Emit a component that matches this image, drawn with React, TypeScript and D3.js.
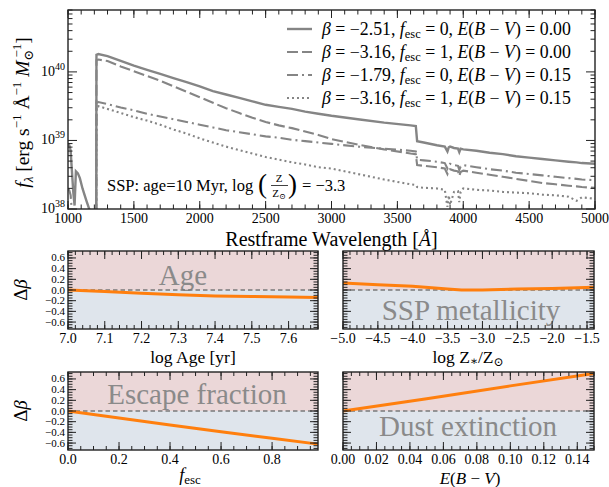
import * as d3 from "d3";

const FONT = "'Liberation Serif', 'DejaVu Serif', serif";
const GRAY = "#858585";
const AXIS = "#222";

// ---- top panel: SSP spectra (log10 f_lambda) ----
const wavelength = [
  1000, 1010, 1020, 1030, 1040, 1050, 1060, 1075, 1090, 1110, 1140, 1170, 1200, 1214,
  1216, 1230, 1300,
  1400, 1500, 1600, 1700, 1800, 1900, 2000, 2100, 2200, 2300, 2400, 2500, 2600, 2700, 2800, 2900, 3000,
  3200, 3400, 3600, 3640, 3650, 3700, 3800,
  3860, 3880, 3890, 3900, 3930, 3960, 3970, 3980, 4000,
  4100, 4200, 4300, 4400, 4500, 4600, 4700, 4800,
  4860, 4900, 5000,
];
const logFluxSolid = [
  38.95, 38.93, 38.85, 38.55, 38.25, 38.05, 38.55, 38.52, 38.45, 38.3, 38.12, 37.95, 37.7, 37.5,
  40.25, 40.26, 40.23,
  40.16, 40.09, 40.03, 39.97, 39.91, 39.85, 39.79, 39.72, 39.67, 39.62, 39.57, 39.52, 39.49, 39.46, 39.42, 39.39, 39.36,
  39.31, 39.26, 39.22, 39.21, 38.99, 38.97, 38.93,
  38.91, 38.84, 38.9, 38.91, 38.89, 38.88, 38.83, 38.88, 38.87,
  38.85, 38.82, 38.8, 38.77, 38.75, 38.73, 38.71, 38.69,
  38.68, 38.67, 38.66,
];
const logFluxDashed = [
  37, 37, 37, 37, 37, 37, 37, 37, 37, 37, 37, 37, 37, 37,
  40.17, 40.18, 40.16,
  40.08, 40.01, 39.94, 39.87, 39.79, 39.71, 39.63, 39.55, 39.47, 39.4, 39.33, 39.27, 39.22, 39.18, 39.13, 39.08, 39.02,
  38.94, 38.87, 38.81, 38.8, 38.64, 38.63, 38.61,
  38.59, 38.51, 38.56, 38.58, 38.56, 38.55, 38.48, 38.54, 38.56,
  38.53, 38.5, 38.47, 38.44, 38.41, 38.38, 38.36, 38.34,
  38.33, 38.32, 38.31,
];
const logFluxDashDot = [
  38.3, 38.27, 38.2, 37.95, 37.7, 37.55, 37.9, 37.85, 37.75, 37.6, 37.45, 37.3, 37.1, 37.0,
  39.55, 39.56, 39.53,
  39.48, 39.44, 39.39, 39.35, 39.31, 39.27, 39.23, 39.19, 39.15, 39.12, 39.09, 39.06, 39.04, 39.01, 38.99, 38.97, 38.95,
  38.91, 38.88, 38.85, 38.84, 38.72, 38.71, 38.69,
  38.67, 38.59, 38.64, 38.66, 38.64, 38.63, 38.57, 38.62, 38.64,
  38.61, 38.58, 38.56, 38.53, 38.51, 38.49, 38.47, 38.45,
  38.44, 38.43, 38.42,
];
const logFluxDotted = [
  37, 37, 37, 37, 37, 37, 37, 37, 37, 37, 37, 37, 37, 37,
  39.49, 39.5, 39.46,
  39.4, 39.34, 39.29, 39.23, 39.16, 39.1, 39.03, 38.97, 38.91, 38.86, 38.81, 38.76, 38.72, 38.68, 38.65, 38.61, 38.59,
  38.51, 38.43, 38.36, 38.35, 38.32, 38.31, 38.3,
  38.28, 38.03, 38.2, 38.06, 38.25, 38.26, 38.1, 38.25, 38.3,
  38.28, 38.27, 38.25, 38.24, 38.23, 38.21, 38.2, 38.18,
  38.12, 38.17, 38.15,
];

const legendBeta = [-2.51, -3.16, -1.79, -3.16];
const legendFesc = [0, 1, 0, 1];
const legendEbv = [0.0, 0.0, 0.15, 0.15];
const seriesFlux = [logFluxSolid, logFluxDashed, logFluxDashDot, logFluxDotted];
const seriesDash = ["", "11,4", "11,4,2,4", "2,3"];

// ---- bottom panels: delta beta ----
const ageGrid = [7.0, 7.1, 7.2, 7.3, 7.4, 7.5, 7.6, 7.68];
const ageDeltaBeta = [0, -0.03, -0.06, -0.09, -0.11, -0.12, -0.13, -0.14];
const metalGrid = [-5.0, -4.5, -4.0, -3.5, -3.3, -3.0, -2.5, -2.0, -1.4];
const metalDeltaBeta = [0.13, 0.1, 0.07, 0.02, 0.0, 0.0, 0.02, 0.03, 0.05];
const fescGrid = [0, 0.2, 0.4, 0.6, 0.8, 0.98];
const fescDeltaBeta = [0, -0.13, -0.26, -0.39, -0.51, -0.62];
const ebvGrid = [0, 0.05, 0.1, 0.15];
const ebvDeltaBeta = [0, 0.23, 0.47, 0.7];

const fmt = d3.format("");
const minus = (v: number, f: string) => d3.format(f)(v);

function rangeTicks(a: number, b: number, step: number) {
  const out: number[] = [];
  const n0 = Math.ceil(a / step - 1e-6);
  const n1 = Math.floor(b / step + 1e-6);
  for (let n = n0; n <= n1; n++) out.push(+(n * step).toFixed(6));
  return out;
}

function Frame({ x0, x1, y0, y1 }: any) {
  return <rect x={x0} y={y0} width={x1 - x0} height={y1 - y0} fill="none" stroke={AXIS} strokeWidth={1.4} />;
}

function XTicks({ xs, ticks, y0, y1, len }: any) {
  return (
    <g stroke={AXIS} strokeWidth={1}>
      {ticks.map((t: number, i: number) => (
        <g key={i}>
          <line x1={xs(t)} x2={xs(t)} y1={y1} y2={y1 - len} />
          <line x1={xs(t)} x2={xs(t)} y1={y0} y2={y0 + len} />
        </g>
      ))}
    </g>
  );
}

function YTicks({ ys, ticks, x0, x1, len }: any) {
  return (
    <g stroke={AXIS} strokeWidth={1}>
      {ticks.map((t: number, i: number) => (
        <g key={i}>
          <line x1={x0} x2={x0 + len} y1={ys(t)} y2={ys(t)} />
          <line x1={x1} x2={x1 - len} y1={ys(t)} y2={ys(t)} />
        </g>
      ))}
    </g>
  );
}

function TopPanel() {
  const x0 = 68, x1 = 595, y0 = 10, y1 = 209;
  const xs = d3.scaleLinear().domain([1000, 5000]).range([x0, x1]);
  const ys = d3.scaleLog().domain([1e38, 8e40]).range([y1, y0]);
  const line = d3
    .line<number>()
    .x((_, i) => xs(wavelength[i]))
    .y((d) => ys(Math.pow(10, d)));
  const majorX = rangeTicks(1000, 5000, 500);
  const minorX = rangeTicks(1000, 5000, 100);
  const decades = [1e38, 1e39, 1e40];
  const minorY: number[] = [];
  decades.forEach((d) => [2, 3, 4, 5, 6, 7, 8, 9].forEach((k) => k * d <= 8e40 && minorY.push(k * d)));
  const legY = [29, 52, 75, 98];

  return (
    <g fontFamily={FONT}>
      <defs>
        <clipPath id="topclip">
          <rect x={x0} y={y0} width={x1 - x0} height={y1 - y0} />
        </clipPath>
      </defs>
      <g clipPath="url(#topclip)" fill="none" stroke={GRAY}>
        {seriesFlux.map((s, i) => (
          <path key={i} d={line(s) ?? ""} strokeWidth={i === 0 ? 2.4 : 2.1} strokeDasharray={seriesDash[i] || undefined} />
        ))}
      </g>
      <XTicks xs={xs} ticks={minorX} y0={y0} y1={y1} len={4.5} />
      <XTicks xs={xs} ticks={majorX} y0={y0} y1={y1} len={8} />
      <YTicks ys={ys} ticks={minorY} x0={x0} x1={x1} len={4.5} />
      <YTicks ys={ys} ticks={decades} x0={x0} x1={x1} len={9} />
      <Frame x0={x0} x1={x1} y0={y0} y1={y1} />
      {majorX.map((t) => (
        <text key={t} x={xs(t)} y={y1 + 14} fontSize={14} textAnchor="middle">
          {fmt(t)}
        </text>
      ))}
      {decades.map((d) => (
        <text key={d} x={x0 - 3} y={ys(d) + 4} fontSize={14} textAnchor="end">
          10
          <tspan dy={-6} fontSize={10}>
            {Math.round(Math.log10(d))}
          </tspan>
        </text>
      ))}
      <text x={(x0 + x1) / 2} y={246} fontSize={20} textAnchor="middle">
        Restframe Wavelength [<tspan fontStyle="italic">Å</tspan>]
      </text>
      <text transform={`translate(29,${(y0 + y1) / 2 + 3}) rotate(-90)`} fontSize={19.5} textAnchor="middle">
        <tspan fontStyle="italic">f</tspan>
        <tspan dy={4} fontSize={13} fontStyle="italic">λ</tspan>
        <tspan dy={-4}> [erg s</tspan>
        <tspan dy={-8} fontSize={13}>−1</tspan>
        <tspan dy={8}> Å</tspan>
        <tspan dy={-8} fontSize={13}>−1</tspan>
        <tspan dy={8} fontStyle="italic"> M</tspan>
        <tspan dy={4} fontSize={13}>⊙</tspan>
        <tspan dy={-12} dx={-8} fontSize={13}>−1</tspan>
        <tspan dy={8}>]</tspan>
      </text>
      {/* annotation */}
      <g fontSize={16.5}>
        <text x={107} y={191}>SSP: age=10 Myr, log</text>
        <text x={258} y={193} fontSize={27} fontWeight={300}>(</text>
        <text x={279} y={182} fontSize={11} textAnchor="middle">Z</text>
        <line x1={271} x2={288} y1={185.5} y2={185.5} stroke="#111" strokeWidth={0.8} />
        <text x={279} y={197} fontSize={11} textAnchor="middle">
          Z<tspan fontSize={8} dy={2}>⊙</tspan>
        </text>
        <text x={288} y={193} fontSize={27} fontWeight={300}>)</text>
        <text x={302} y={191}>= {minus(-3.3, ".1f")}</text>
      </g>
      {/* legend */}
      {legendBeta.map((b, i) => (
        <g key={i}>
          <line x1={287} x2={312} y1={legY[i]} y2={legY[i]} stroke={GRAY} strokeWidth={i === 0 ? 2.4 : 2.1} strokeDasharray={seriesDash[i] || undefined} />
          <text x={322} y={legY[i] + 5.5} fontSize={17.8}>
            <tspan fontStyle="italic">β</tspan> = {minus(b, ".2f")},{" "}
            <tspan fontStyle="italic">f</tspan>
            <tspan dy={3} fontSize={12.5}>esc</tspan>
            <tspan dy={-3}> = {legendFesc[i]}, </tspan>
            <tspan fontStyle="italic">E</tspan>(<tspan fontStyle="italic">B</tspan> − <tspan fontStyle="italic">V</tspan>) = {minus(legendEbv[i], ".2f")}
          </text>
        </g>
      ))}
    </g>
  );
}

const Y_DOMAIN = [-0.73, 0.73];
const yMajor = [-0.6, -0.4, -0.2, 0, 0.2, 0.4, 0.6];
const yMinor = rangeTicks(-0.7, 0.7, 0.05);

function DeltaPanel(p: any) {
  const { x0, x1, y0, y1, xDomain, major, minor, tickFmt, xs: xv, ys: yv, title, titleX, titleY, showY, xlabel } = p;
  const xs = d3.scaleLinear().domain(xDomain).range([x0, x1]);
  const ys = d3.scaleLinear().domain(Y_DOMAIN).range([y1, y0]);
  const line = d3
    .line<number>()
    .x((d) => xs(d))
    .y((_, i) => ys(yv[i]));
  const majT = rangeTicks(xDomain[0], xDomain[1], major);
  const minT = rangeTicks(xDomain[0], xDomain[1], minor);
  return (
    <g fontFamily={FONT}>
      <rect x={x0} y={y0} width={x1 - x0} height={ys(0) - y0} fill="#ebd7d8" />
      <rect x={x0} y={ys(0)} width={x1 - x0} height={y1 - ys(0)} fill="#dfe5ec" />
      <text x={titleX} y={titleY} fontSize={29} fill="#8a8a8a" textAnchor="middle">
        {title}
      </text>
      <line x1={x0} x2={x1} y1={ys(0)} y2={ys(0)} stroke="#7a7a7a" strokeWidth={1.5} strokeDasharray="4.5,3" />
      <path d={line(xv) ?? ""} fill="none" stroke="#ff7f0e" strokeWidth={3} />
      <XTicks xs={xs} ticks={minT} y0={y0} y1={y1} len={4} />
      <XTicks xs={xs} ticks={majT} y0={y0} y1={y1} len={8} />
      <YTicks ys={ys} ticks={yMinor} x0={x0} x1={x1} len={4.5} />
      <YTicks ys={ys} ticks={yMajor} x0={x0} x1={x1} len={8} />
      <Frame x0={x0} x1={x1} y0={y0} y1={y1} />
      {majT.map((t) => (
        <text key={t} x={xs(t)} y={y1 + 14} fontSize={14} textAnchor="middle">
          {d3.format(tickFmt)(t)}
        </text>
      ))}
      {showY &&
        yMajor.map((t) => (
          <text key={t} x={x0 - 3} y={ys(t) + 3.5} fontSize={11} textAnchor="end">
            {d3.format(".1f")(t)}
          </text>
        ))}
      {showY && (
        <text transform={`translate(27,${(y0 + y1) / 2}) rotate(-90)`} fontSize={19} textAnchor="middle">
          Δ<tspan fontStyle="italic">β</tspan>
        </text>
      )}
      {xlabel}
    </g>
  );
}

export default function App() {
  const L = { x0: 68, x1: 318 };
  const R = { x0: 343, x1: 594 };
  const r1 = { y0: 251, y1: 329 };
  const r2 = { y0: 372, y1: 450 };
  return (
    <svg width={609} height={487} style={{ position: "absolute", left: 0, top: 0, background: "#fff" }}>
      <rect width={609} height={487} fill="#fff" />
      <TopPanel />
      <DeltaPanel
        {...L}
        {...r1}
        xDomain={[7.0, 7.68]}
        major={0.1}
        minor={0.02}
        tickFmt=".1f"
        xs={ageGrid}
        ys={ageDeltaBeta}
        title="Age"
        titleX={183}
        titleY={285}
        showY
        xlabel={
          <text x={193} y={363} fontSize={17.5} textAnchor="middle">
            log Age [yr]
          </text>
        }
      />
      <DeltaPanel
        {...R}
        {...r1}
        xDomain={[-5.0, -1.4]}
        major={0.5}
        minor={0.1}
        tickFmt=".1f"
        xs={metalGrid}
        ys={metalDeltaBeta}
        title="SSP metallicity"
        titleX={471}
        titleY={320}
        xlabel={
          <text x={468} y={363} fontSize={17.5} textAnchor="middle">
            log Z<tspan fontSize={12} dy={2}>∗</tspan>
            <tspan dy={-2}>/Z</tspan>
            <tspan fontSize={12} dy={3}>⊙</tspan>
          </text>
        }
      />
      <DeltaPanel
        {...L}
        {...r2}
        xDomain={[0, 0.98]}
        major={0.2}
        minor={0.05}
        tickFmt=".1f"
        xs={fescGrid}
        ys={fescDeltaBeta}
        title="Escape fraction"
        titleX={197}
        titleY={404}
        showY
        xlabel={
          <text x={190} y={481} fontSize={18} textAnchor="middle">
            <tspan fontStyle="italic">f</tspan>
            <tspan fontSize={13} dy={3}>esc</tspan>
          </text>
        }
      />
      <DeltaPanel
        {...R}
        {...r2}
        xDomain={[0, 0.15]}
        major={0.02}
        minor={0.005}
        tickFmt=".2f"
        xs={ebvGrid}
        ys={ebvDeltaBeta}
        title="Dust extinction"
        titleX={468}
        titleY={436}
        xlabel={
          <text x={470} y={484} fontSize={17} textAnchor="middle">
            <tspan fontStyle="italic">E</tspan>(<tspan fontStyle="italic">B</tspan> − <tspan fontStyle="italic">V</tspan>)
          </text>
        }
      />
    </svg>
  );
}
